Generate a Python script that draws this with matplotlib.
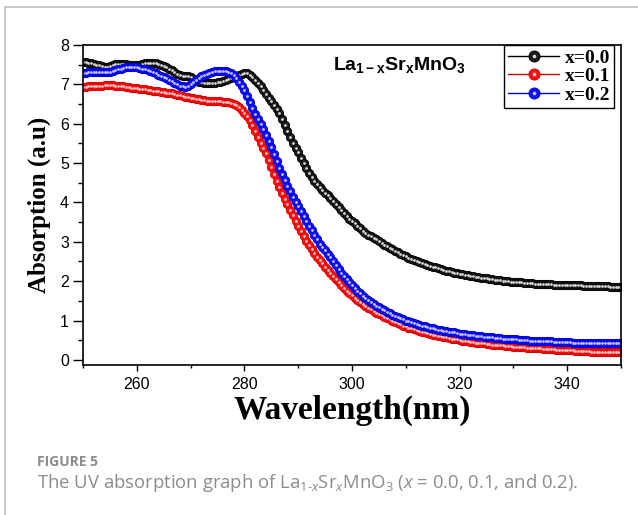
import numpy as np
import matplotlib.pyplot as plt
from matplotlib.lines import Line2D
from matplotlib.ticker import MultipleLocator

plt.rcParams['font.family'] = 'Liberation Sans'
plt.rcParams['mathtext.fontset'] = 'custom'
plt.rcParams['mathtext.rm'] = 'Open Sans'
plt.rcParams['mathtext.it'] = 'Open Sans:italic'
plt.rcParams['mathtext.bf'] = 'Liberation Sans:bold'

# spectra sampled every 0.5 nm, 250 -> 350 nm
wavelength = np.arange(250, 350.5, 0.5)

abs_x00 = [7.58, 7.57, 7.55, 7.53, 7.52, 7.50, 7.48, 7.46, 7.45, 7.45,
           7.47, 7.49, 7.51, 7.52, 7.52, 7.52, 7.51, 7.50, 7.50, 7.49,
           7.49, 7.50, 7.52, 7.54, 7.55, 7.55, 7.54, 7.53, 7.51, 7.49,
           7.47, 7.44, 7.40, 7.36, 7.31, 7.27, 7.24, 7.22, 7.21, 7.20,
           7.18, 7.14, 7.10, 7.07, 7.05, 7.04, 7.04, 7.03, 7.04, 7.04,
           7.05, 7.06, 7.08, 7.10, 7.13, 7.16, 7.19, 7.22, 7.24, 7.26,
           7.28, 7.28, 7.25, 7.19, 7.12, 7.04, 6.95, 6.85, 6.75, 6.66,
           6.58, 6.48, 6.38, 6.26, 6.12, 5.97, 5.82, 5.66, 5.50, 5.38,
           5.27, 5.14, 5.00, 4.87, 4.75, 4.65, 4.55, 4.47, 4.40, 4.32,
           4.25, 4.18, 4.12, 4.04, 3.96, 3.88, 3.80, 3.73, 3.66, 3.59,
           3.53, 3.47, 3.40, 3.34, 3.28, 3.23, 3.18, 3.14, 3.10, 3.06,
           3.02, 2.97, 2.93, 2.89, 2.85, 2.81, 2.77, 2.74, 2.70, 2.67,
           2.64, 2.60, 2.57, 2.54, 2.52, 2.49, 2.46, 2.44, 2.42, 2.39,
           2.37, 2.35, 2.33, 2.31, 2.29, 2.27, 2.25, 2.24, 2.22, 2.20,
           2.19, 2.17, 2.16, 2.15, 2.13, 2.12, 2.11, 2.10, 2.09, 2.08,
           2.07, 2.06, 2.05, 2.04, 2.03, 2.02, 2.01, 2.01, 2.00, 1.99,
           1.99, 1.98, 1.97, 1.97, 1.96, 1.96, 1.95, 1.95, 1.94, 1.94,
           1.93, 1.93, 1.92, 1.92, 1.92, 1.91, 1.91, 1.91, 1.90, 1.90,
           1.90, 1.90, 1.89, 1.89, 1.89, 1.89, 1.88, 1.88, 1.88, 1.88,
           1.88, 1.87, 1.87, 1.87, 1.87, 1.87, 1.86, 1.86, 1.86, 1.86,
           1.86]

abs_x01 = [6.94, 6.94, 6.95, 6.95, 6.96, 6.96, 6.97, 6.97, 6.98, 6.98,
           6.98, 6.98, 6.97, 6.96, 6.95, 6.95, 6.94, 6.93, 6.92, 6.91,
           6.90, 6.89, 6.88, 6.87, 6.86, 6.85, 6.84, 6.83, 6.82, 6.81,
           6.80, 6.79, 6.78, 6.77, 6.75, 6.74, 6.72, 6.71, 6.69, 6.68,
           6.66, 6.65, 6.63, 6.62, 6.60, 6.59, 6.58, 6.58, 6.57, 6.57,
           6.57, 6.57, 6.56, 6.56, 6.55, 6.53, 6.50, 6.47, 6.42, 6.36,
           6.28, 6.20, 6.10, 5.97, 5.82, 5.66, 5.50, 5.38, 5.25, 5.08,
           4.90, 4.72, 4.55, 4.40, 4.25, 4.10, 3.95, 3.81, 3.68, 3.54,
           3.40, 3.27, 3.15, 3.03, 2.92, 2.82, 2.72, 2.62, 2.53, 2.45,
           2.37, 2.29, 2.22, 2.13, 2.05, 1.97, 1.90, 1.83, 1.76, 1.70,
           1.64, 1.58, 1.53, 1.47, 1.42, 1.37, 1.33, 1.29, 1.25, 1.20,
           1.16, 1.13, 1.09, 1.06, 1.03, 0.99, 0.96, 0.93, 0.90, 0.87,
           0.85, 0.82, 0.80, 0.78, 0.76, 0.74, 0.72, 0.70, 0.68, 0.66,
           0.64, 0.63, 0.61, 0.60, 0.58, 0.57, 0.56, 0.54, 0.53, 0.52,
           0.50, 0.49, 0.48, 0.47, 0.46, 0.45, 0.44, 0.43, 0.42, 0.42,
           0.41, 0.40, 0.39, 0.39, 0.38, 0.37, 0.37, 0.36, 0.35, 0.35,
           0.34, 0.33, 0.33, 0.32, 0.32, 0.31, 0.31, 0.30, 0.30, 0.29,
           0.29, 0.28, 0.28, 0.27, 0.27, 0.27, 0.26, 0.26, 0.25, 0.25,
           0.24, 0.24, 0.24, 0.23, 0.23, 0.23, 0.22, 0.22, 0.22, 0.21,
           0.21, 0.21, 0.21, 0.20, 0.20, 0.20, 0.20, 0.20, 0.19, 0.19,
           0.19]

abs_x02 = [7.30, 7.30, 7.31, 7.31, 7.32, 7.32, 7.32, 7.32, 7.31, 7.31,
           7.31, 7.33, 7.36, 7.38, 7.40, 7.42, 7.43, 7.44, 7.44, 7.44,
           7.43, 7.42, 7.40, 7.38, 7.36, 7.34, 7.31, 7.28, 7.25, 7.22,
           7.19, 7.16, 7.12, 7.08, 7.04, 7.00, 6.97, 6.95, 6.94, 6.95,
           7.00, 7.05, 7.10, 7.15, 7.20, 7.24, 7.27, 7.30, 7.32, 7.33,
           7.34, 7.34, 7.34, 7.33, 7.31, 7.28, 7.23, 7.15, 7.05, 6.95,
           6.85, 6.70, 6.55, 6.40, 6.25, 6.12, 6.00, 5.86, 5.72, 5.57,
           5.42, 5.23, 5.05, 4.88, 4.72, 4.57, 4.42, 4.28, 4.15, 4.02,
           3.90, 3.77, 3.65, 3.52, 3.40, 3.29, 3.18, 3.06, 2.95, 2.86,
           2.78, 2.70, 2.62, 2.52, 2.42, 2.32, 2.22, 2.13, 2.05, 1.97,
           1.90, 1.83, 1.76, 1.69, 1.63, 1.58, 1.53, 1.48, 1.43, 1.38,
           1.34, 1.30, 1.26, 1.22, 1.19, 1.15, 1.12, 1.09, 1.06, 1.03,
           1.00, 0.98, 0.95, 0.93, 0.91, 0.89, 0.87, 0.85, 0.83, 0.82,
           0.80, 0.79, 0.77, 0.76, 0.74, 0.73, 0.72, 0.71, 0.70, 0.68,
           0.67, 0.66, 0.65, 0.64, 0.63, 0.62, 0.61, 0.60, 0.60, 0.59,
           0.58, 0.57, 0.57, 0.56, 0.55, 0.55, 0.54, 0.54, 0.53, 0.53,
           0.52, 0.52, 0.51, 0.51, 0.50, 0.50, 0.49, 0.49, 0.49, 0.48,
           0.48, 0.48, 0.47, 0.47, 0.47, 0.46, 0.46, 0.46, 0.45, 0.45,
           0.45, 0.45, 0.44, 0.44, 0.44, 0.44, 0.44, 0.43, 0.43, 0.43,
           0.43, 0.43, 0.43, 0.42, 0.42, 0.42, 0.42, 0.42, 0.42, 0.42,
           0.42]

labels = ['x=0.0', 'x=0.1', 'x=0.2']
# face, edge, highlight
styles = [('#1c1c1c', '#000000', '#d8d8d8'),
          ('#ff1010', '#d00000', '#ffc8c8'),
          ('#1010ff', '#0000d0', '#c8c8ff')]

fig = plt.figure(figsize=(6.38, 5.15), dpi=100)
ax = fig.add_axes([83/638, 150/515, 538/638, 320/515])

handles = []
for y, (face, edge, hi) in zip([abs_x00, abs_x01, abs_x02], styles):
    ax.plot(wavelength, y, ls='none', marker='o', ms=6.0, mfc=face, mec=edge, mew=0.6)
    ax.plot(wavelength, y, ls='none', marker='o', ms=2.0, mfc=hi, mec='none')
    h1 = Line2D([], [], color=edge, lw=1, marker='o', ms=8, mfc=face, mec=edge, mew=0.6)
    h2 = Line2D([], [], ls='none', marker='o', ms=2.6, mfc=hi, mec='none')
    handles.append((h1, h2))

ax.set_xlim(250, 350)
ax.set_ylim(-0.13, 8)
ax.xaxis.set_major_locator(MultipleLocator(20))
ax.xaxis.set_minor_locator(MultipleLocator(10))
ax.yaxis.set_major_locator(MultipleLocator(1))
ax.yaxis.set_minor_locator(MultipleLocator(0.5))
ax.set_xticks([260, 280, 300, 320, 340])
ax.tick_params(axis='x', which='major', direction='out', length=4.5, width=1, labelsize=11.5, pad=4)
ax.tick_params(axis='x', which='minor', direction='out', length=2.5, width=1)
ax.tick_params(axis='y', which='major', direction='out', length=7, width=1, labelsize=11.5, pad=3)
ax.tick_params(axis='y', which='minor', direction='out', length=3.5, width=1)
for s in ax.spines.values():
    s.set_linewidth(1.2)

leg = ax.legend(handles, labels, loc='upper right', bbox_to_anchor=(0.987, 1.0), borderaxespad=0,
                fancybox=False, framealpha=1, edgecolor='black', handlelength=2.6,
                handletextpad=0.3, labelspacing=0.05, borderpad=0.2,
                prop={'family': 'Liberation Serif', 'weight': 'bold', 'size': 14})
leg.get_frame().set_linewidth(1.0)

ax.text(0.465, 0.9375, r'La$_{\mathbf{1-x}}$Sr$_{\mathbf{x}}$MnO$_{\mathbf{3}}$', transform=ax.transAxes,
        ha='left', va='center', fontsize=14, fontweight='bold')

fig.text(39/638, 1 - 205/515, 'Absorption (a.u)', rotation=90, ha='center', va='center',
         family='Liberation Serif', fontweight='bold', fontsize=18)
fig.text(352/638, 1 - 410/515, 'Wavelength(nm)', ha='center', va='center',
         family='Liberation Serif', fontweight='bold', fontsize=24)

# caption
fig.text(37/638, 1 - 462/515, 'FIGURE 5', ha='left', va='center', family='Open Sans',
         fontweight='bold', fontsize=10, color='#8c8c8c')
fig.text(37/638, 1 - 483/515,
         r'The UV absorption graph of La$_{1\text{-}x}$Sr$_x$MnO$_3$ ($x$ = 0.0, 0.1, and 0.2).',
         ha='left', va='center', family='Open Sans', fontsize=13.3, color='#8c8c8c')

# card border
fig.add_artist(Line2D([5/638, 5/638], [0, 1 - 7/515], transform=fig.transFigure, color='#c0c0c0', lw=1.2))
fig.add_artist(Line2D([5/638, 1], [1 - 7/515, 1 - 7/515], transform=fig.transFigure, color='#c0c0c0', lw=1.2))

fig.savefig('out.png', dpi=100)
